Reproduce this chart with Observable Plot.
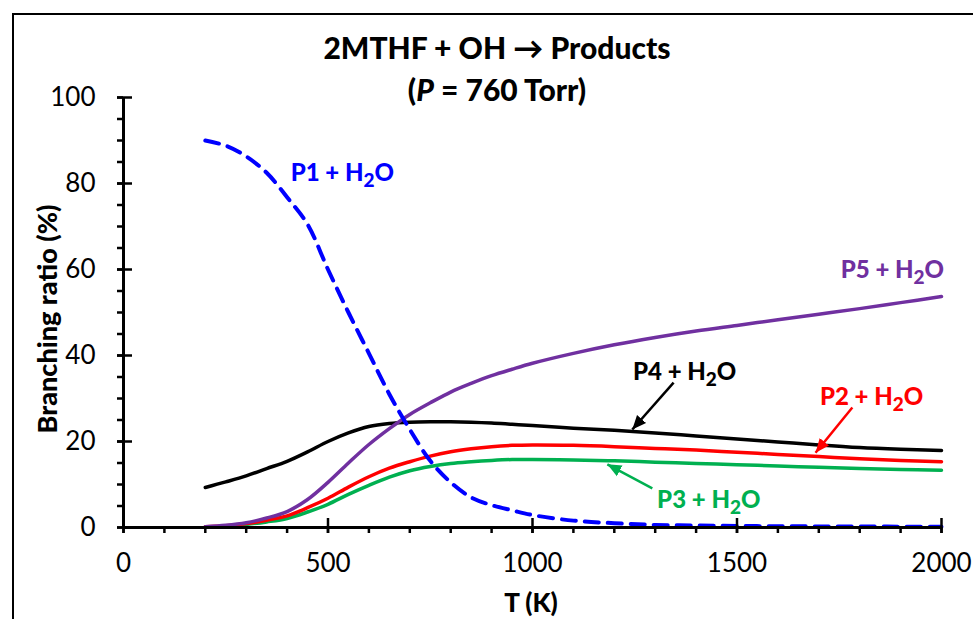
<!DOCTYPE html>
<html><head><meta charset="utf-8">
<script src="https://cdn.jsdelivr.net/npm/d3@7"></script>
<script src="https://cdn.jsdelivr.net/npm/@observablehq/plot@0.6"></script>
<style>
body{margin:0;background:#fff;}
#wrap{position:relative;width:973px;height:619px;overflow:hidden;font-family:Lato,sans-serif;background:#fff;}
#frame{position:absolute;left:12px;top:13px;width:1100px;height:800px;border-left:2px solid #000;border-top:2px solid #000;}
#chart{position:absolute;left:0;top:0;}
.t{position:absolute;left:0;width:994px;text-align:center;font-weight:900;font-size:30px;line-height:30px;color:#000;white-space:nowrap;}
#ylab{position:absolute;left:-103px;top:304px;width:300px;height:30px;line-height:30px;text-align:center;font-weight:900;font-size:27px;transform:rotate(-90deg);white-space:nowrap;}
#xlab{position:absolute;left:431px;width:200px;top:587px;line-height:30px;text-align:center;font-weight:900;font-size:26px;}
</style>
</head><body>
<div id="wrap">
  <div id="frame"></div>
  <div id="chart"></div>
  <div class="t" style="top:32px">2MTHF + OH &#8594; Products</div>
  <div class="t" style="top:74px">(<i>P</i> = 760 Torr)</div>
  <div id="ylab">Branching ratio (%)</div>
  <div id="xlab">T (K)</div>
</div>
<script>
const temps = [200,250,300,350,400,450,500,550,600,650,700,750,800,850,900,950,1000,1100,1200,1300,1400,1500,1600,1700,1800,1900,2000];
const p1 = [90,88.8,86.3,82.5,76.8,70.5,60,50,40.5,31,22.8,15.5,10.5,7,5.2,4,2.9,1.6,1.0,0.6,0.45,0.35,0.3,0.25,0.22,0.2,0.2];
const p2 = [0.2,0.4,0.9,1.7,2.7,4.6,6.8,9.4,11.8,13.8,15.3,16.6,17.6,18.3,18.8,19.1,19.2,19.1,18.8,18.4,18.0,17.5,17.0,16.5,16.0,15.6,15.3];
const p3 = [0.1,0.3,0.7,1.3,2.1,3.6,5.4,7.7,9.8,11.7,13.2,14.2,14.9,15.3,15.6,15.8,15.8,15.7,15.5,15.2,14.9,14.6,14.3,14.0,13.7,13.5,13.3];
const p4 = [9.3,10.6,12.0,13.7,15.4,17.6,20.0,22.0,23.5,24.2,24.5,24.6,24.6,24.5,24.3,24.0,23.7,23.1,22.6,22.0,21.3,20.6,19.9,19.2,18.6,18.2,17.9];
const p5 = [0.2,0.5,1.1,2.2,3.7,6.5,10.5,15.0,19.3,23.0,26.3,29.0,31.5,33.5,35.3,36.8,38.2,40.5,42.5,44.2,45.7,47.0,48.3,49.6,50.9,52.3,53.7];

const xMajor = [0,500,1000,1500,2000];
const xMinor = d3.range(0,2001,100);
const yMajor = [0,20,40,60,80,100];
const yMinor = d3.range(0,101,5);

const labelNames = ["P1 + H2O","P5 + H2O","P4 + H2O","P2 + H2O","P3 + H2O"];
const labelT = [535,1880,1372,1829,1431];
const labelV = [82.3,59.8,36,30.2,6.3];
const labelColors = ["#0000ff","#7030a0","#000000","#ff0000","#00b050"];

const arrowColors = ["#000000","#ff0000","#00b050"];
const arrowT1 = [1345,1782,1293];
const arrowV1 = [33.7,27.9,9.1];
const arrowT2 = [1244,1692,1183];
const arrowV2 = [22.8,17.4,14.7];

const NS = "http://www.w3.org/2000/svg";
function headMarker(color){
  const m = document.createElementNS(NS,"marker");
  m.setAttribute("viewBox","-14 -7 14 14");
  m.setAttribute("markerWidth","14");
  m.setAttribute("markerHeight","14");
  m.setAttribute("markerUnits","userSpaceOnUse");
  m.setAttribute("refX","0");
  m.setAttribute("refY","0");
  m.setAttribute("orient","auto");
  const p = document.createElementNS(NS,"path");
  p.setAttribute("d","M-14,-6L0,0L-14,6Z");
  p.setAttribute("fill",color);
  p.setAttribute("stroke","none");
  m.appendChild(p);
  return m;
}

const lineOpts = {x: d => d, curve: "catmull-rom", strokeWidth: 3.5};
const W = 973, H = 619, ML = 123, MR = 32, MT = 97, MB = 92;
const FW = W - ML - MR, FH = H - MT - MB;

const plot = Plot.plot({
  width: W, height: H,
  marginLeft: ML, marginRight: MR, marginTop: MT, marginBottom: MB,
  x: {domain: [0,2000]},
  y: {domain: [0,100]},
  color: {type: "identity"},
  style: {fontFamily: "Lato, sans-serif", background: "transparent", color: "#000", overflow: "visible"},
  marks: [
    Plot.line(temps, {...lineOpts, y: (d,i) => p3[i], stroke: "#00b050"}),
    Plot.line(temps, {...lineOpts, y: (d,i) => p2[i], stroke: "#ff0000"}),
    Plot.line(temps, {...lineOpts, y: (d,i) => p4[i], stroke: "#000000"}),
    Plot.line(temps, {...lineOpts, y: (d,i) => p5[i], stroke: "#7030a0"}),
    Plot.line(temps, {...lineOpts, y: (d,i) => p1[i], stroke: "#0000ff", strokeWidth: 4, strokeDasharray: "14,9"}),
    Plot.axisY(yMinor, {tickSize: 6, tickFormat: () => "", strokeWidth: 2.5, stroke: "#000", label: null}),
    Plot.axisY(yMajor, {tickSize: 6, tickPadding: 22, fontSize: 26, tickFormat: d => String(d), strokeWidth: 2.5, stroke: "#000", fill: "#000", label: null}),
    Plot.tickY(yMajor, {y: d => d, insetRight: FW - 9, stroke: "#000", strokeWidth: 2.5}),
    Plot.axisX(xMinor, {tickSize: 6, tickFormat: () => "", strokeWidth: 2.5, stroke: "#000", label: null}),
    Plot.axisX(xMajor, {tickSize: 6, tickPadding: 20, fontSize: 26, tickFormat: d => String(d), strokeWidth: 2.5, stroke: "#000", fill: "#000", label: null}),
    Plot.tickX(xMajor, {x: d => d, insetTop: FH - 9, stroke: "#000", strokeWidth: 2.5}),
    Plot.ruleX([0], {stroke: "#000", strokeWidth: 3}),
    Plot.ruleY([0], {stroke: "#000", strokeWidth: 3}),
    Plot.link(arrowColors, {x1: (d,i) => arrowT1[i], y1: (d,i) => arrowV1[i], x2: (d,i) => arrowT2[i], y2: (d,i) => arrowV2[i],
      stroke: d => d, strokeWidth: 2.5, markerEnd: (color) => headMarker(color)}),
    Plot.text(labelNames, {x: (d,i) => labelT[i], y: (d,i) => labelV[i], text: d => d, fill: (d,i) => labelColors[i],
      fontSize: 24, fontWeight: 900, className: "serieslabel"})
  ]
});

// subscript the "2" in H2O
plot.querySelectorAll(".serieslabel text").forEach(t => {
  const s = t.textContent;
  const m = s.match(/^(.*H)2(O)$/);
  if (!m) return;
  t.textContent = "";
  t.appendChild(document.createTextNode(m[1]));
  const sub = document.createElementNS(NS, "tspan");
  sub.setAttribute("dy", "6");
  sub.setAttribute("font-size", "19");
  sub.textContent = "2";
  t.appendChild(sub);
  const o = document.createElementNS(NS, "tspan");
  o.setAttribute("dy", "-6");
  o.textContent = m[2];
  t.appendChild(o);
});

document.getElementById("chart").appendChild(plot);
</script>
</body></html>
